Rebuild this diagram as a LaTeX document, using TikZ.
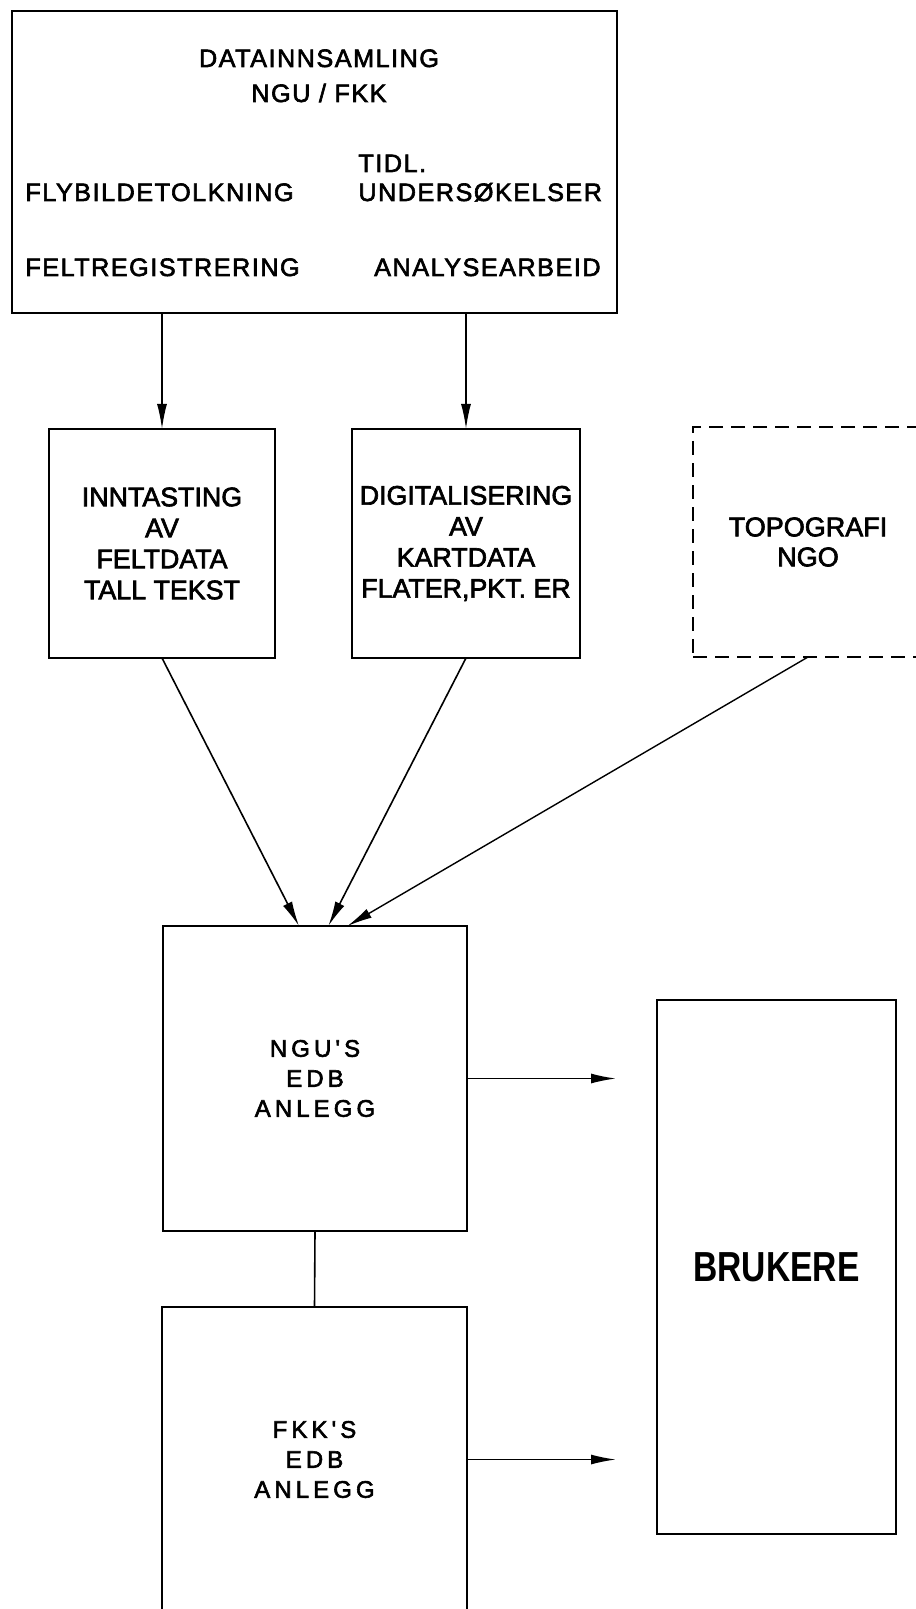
\documentclass[tikz,border=0pt]{standalone}
\usepackage{fontspec}
\setmainfont{Liberation Sans}
\newfontfamily\bodyfont{Liberation Sans}[FakeBold=2.4]
\newfontfamily\topfont{Liberation Sans}[LetterSpace=6, FakeBold=2.4]
\newfontfamily\edbfont{Liberation Sans}[LetterSpace=17, FakeBold=2.4]
\newfontfamily\brukfont{Liberation Sans}[FakeStretch=0.8]
\usetikzlibrary{arrows.meta}

\tikzset{
  box/.style={draw, line width=1pt, inner sep=0pt, outer sep=0pt},
  dashbox/.style={box, dash pattern=on 7pt off 4pt},
  arr/.style={-{Latex[length=12.5pt,width=5pt]}, line width=0.8pt},
  toptext/.style={font=\topfont\fontsize{12.6}{17.5}\selectfont, inner sep=0pt},
  midtext/.style={font=\bodyfont\fontsize{13.4}{15.5}\selectfont, align=center},
  edbtext/.style={font=\edbfont\fontsize{12}{15}\selectfont, align=center},
}

\begin{document}
\begin{tikzpicture}[x=0.5pt, y=-0.5pt]
    \useasboundingbox (0,0) rectangle (915,1609);

    % Datainnsamling
    \node[box, minimum width=302.5pt, minimum height=151pt] (data) at (314.5,162) {};
    \node[toptext, anchor=base] (title) at (319,67) {DATAINNSAMLING};
    \node[toptext, anchor=base] (org) at (319,102) {NGU / FKK};
    \node[toptext, anchor=base west] (tidl) at (358,172) {TIDL.};
    \node[toptext, anchor=base west] (fly) at (25,201) {FLYBILDETOLKNING};
    \node[toptext, anchor=base west] (under) at (358,201) {UNDERSØKELSER};
    \node[toptext, anchor=base west] (felt) at (25,276) {FELTREGISTRERING};
    \node[toptext, anchor=base east] (analyse) at (601,276) {ANALYSEARBEID};

    % Registrering
    \node[box, midtext, minimum width=113pt, minimum height=114.5pt] (inn) at (162,543.5)
        {INNTASTING\\AV\\FELTDATA\\TALL TEKST};
    \node[box, midtext, minimum width=114pt, minimum height=114.5pt] (dig) at (466,543.5)
        {DIGITALISERING\\AV\\KARTDATA\\FLATER,PKT. ER};
    \node[dashbox, midtext, font=\bodyfont\fontsize{13.5}{15}\selectfont, minimum width=115pt, minimum height=115pt] (topo) at (808,542)
        {TOPOGRAFI\\NGO};

    % EDB
    \node[box, edbtext, minimum width=152pt, minimum height=152.5pt] (ngu) at (315,1078.5) {NGU'S\\EDB\\ANLEGG};
    \node[box, edbtext, minimum width=152.5pt, minimum height=152.5pt] (fkk) at (314.5,1459.5) {FKK'S\\EDB\\ANLEGG};
    \node[box, font=\brukfont\bfseries\fontsize{21}{25}\selectfont, minimum width=119.5pt, minimum height=267pt] (bruk) at (776.5,1267) {BRUKERE};

    \coordinate (nguend) at (616,1078.5);
    \coordinate (fkkend) at (616,1459.5);

    % Arrows
    \draw[arr] (data.south -| inn.north) -- (inn.north);
    \draw[arr] (data.south -| dig.north) -- (dig.north);
    \draw[arr] (inn.south) -- (ngu.96);
    \draw[arr] (dig.south) -- (ngu.85);
    \draw[arr, line width=0.7pt] (topo.south) -- (ngu.78);
    \draw[line width=0.8pt] (ngu.south) -- (fkk.north);
    \draw[arr] (ngu.east) -- (nguend);
    \draw[arr] (fkk.east) -- (fkkend);
\end{tikzpicture}
\end{document}
